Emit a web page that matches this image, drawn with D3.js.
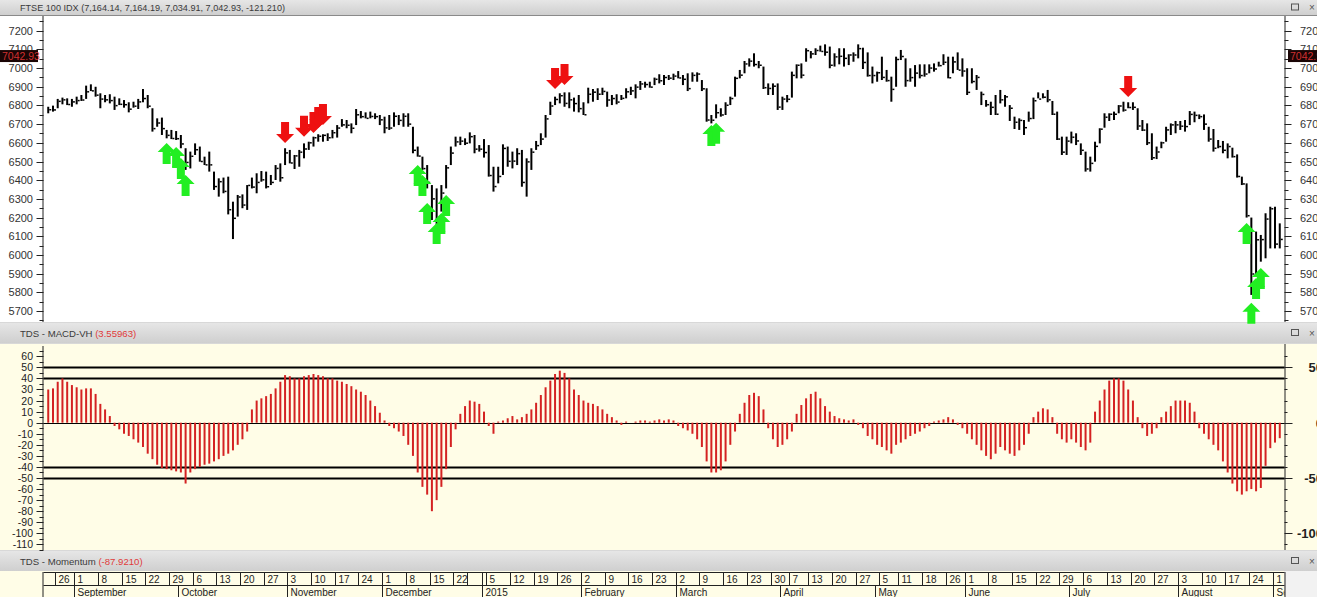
<!DOCTYPE html>
<html><head><meta charset="utf-8">
<script src="https://cdn.jsdelivr.net/npm/d3@7"></script>
<style>
html,body{margin:0;padding:0;background:#ffffff;overflow:hidden}
svg{display:block;font-family:"Liberation Sans",Arial,sans-serif}
</style>
</head><body>
<svg id="chart" width="1317" height="597"></svg>
<script>
// ---------------- DATA ----------------
const startDate = "2014-08-21";
const endDate = "2015-09-02";
const holidays = ["2014-08-25","2014-12-25","2014-12-26","2015-01-01","2015-04-03","2015-04-06","2015-05-04","2015-05-25","2015-08-31"];

const highs = [6793,6799,6835,6842,6838,6835,6847,6856,6906,6913,6900,6865,6856,6860,6847,6838,6829,6817,6820,6835,
6888,6856,6785,6731,6735,6669,6669,6663,6642,6571,6553,6597,6580,6526,6553,6446,6410,6414,6419,6285,
6321,6324,6374,6414,6437,6449,6446,6428,6481,6490,6571,6562,6535,6562,6597,6606,6633,6646,6646,6651,
6669,6695,6727,6722,6704,6781,6770,6763,6767,6758,6749,6740,6749,6763,6749,6758,6758,6686,6580,6526,
6481,6374,6356,6374,6481,6580,6633,6633,6624,6656,6642,6588,6620,6588,6472,6472,6592,6580,6553,6571,
6562,6517,6571,6610,6651,6749,6820,6847,6865,6870,6870,6842,6856,6817,6895,6888,6892,6895,6874,6856,
6860,6856,6892,6900,6913,6931,6927,6927,6949,6967,6963,6963,6970,6984,6963,6972,6977,6977,6936,6892,
6749,6806,6785,6817,6847,6954,6990,7038,7052,7079,7038,7008,6918,6918,6918,6847,6856,6981,7020,7025,
7106,7091,7106,7120,7127,7115,7079,7106,7106,7074,7084,7127,7109,7084,7008,6981,7061,6990,6954,7061,
7097,7052,6999,7016,7020,7020,7020,7025,7034,7074,7061,7061,7084,7052,6999,6999,6963,6874,6829,6820,
6856,6883,6856,6802,6740,6731,6722,6767,6842,6870,6865,6883,6824,6767,6633,6633,6660,6651,6597,6553,
6526,6606,6678,6758,6758,6767,6802,6820,6817,6817,6785,6722,6704,6651,6580,6606,6686,6704,6717,6717,
6722,6770,6767,6752,6752,6686,6674,6615,6610,6597,6574,6538,6419,6383,6200,6125,6107,6223,6258,6258,
6169];
const lows = [6758,6767,6785,6806,6802,6793,6806,6824,6835,6877,6847,6785,6817,6811,6776,6802,6788,6763,6788,6781,
6817,6785,6660,6686,6642,6624,6620,6615,6571,6455,6463,6535,6499,6481,6446,6348,6312,6330,6217,6085,
6205,6250,6241,6356,6330,6392,6356,6374,6401,6392,6481,6490,6460,6472,6517,6562,6580,6606,6606,6610,
6624,6628,6686,6678,6651,6695,6731,6731,6731,6727,6695,6651,6669,6686,6695,6686,6686,6544,6526,6455,
6356,6187,6160,6232,6356,6481,6580,6588,6588,6597,6544,6553,6521,6419,6339,6383,6428,6472,6463,6481,
6365,6312,6455,6562,6588,6628,6749,6802,6811,6793,6785,6767,6763,6749,6811,6820,6829,6856,6793,6802,
6806,6829,6838,6856,6838,6883,6895,6895,6909,6918,6909,6936,6936,6945,6909,6877,6927,6927,6877,6713,
6704,6731,6740,6749,6802,6847,6945,6972,7008,7008,6999,6888,6856,6856,6776,6776,6817,6842,6945,6945,
7034,7052,7070,7088,7066,6999,7008,7020,7008,7016,7034,7052,6995,6954,6918,6927,6936,6927,6820,6900,
7043,6900,6927,6900,6945,6954,6972,6981,7008,7016,6945,6972,6990,6954,6856,6918,6883,6802,6793,6749,
6749,6811,6793,6717,6674,6669,6642,6713,6727,6838,6838,6817,6749,6615,6535,6535,6597,6588,6535,6446,
6446,6499,6597,6681,6717,6722,6758,6767,6785,6776,6669,6663,6588,6508,6513,6571,6606,6642,6651,6669,
6660,6695,6710,6727,6669,6606,6553,6571,6544,6517,6521,6414,6374,6200,5786,5893,5964,5982,6035,6035,
6035];
const closes = [6777,6776,6822,6830,6805,6819,6826,6829,6873,6878,6855,6834,6830,6826,6799,6806,6804,6780,6796,6819,
6837,6796,6676,6706,6676,6640,6623,6622,6594,6495,6528,6563,6500,6482,6482,6366,6392,6340,6242,6196,
6310,6267,6372,6363,6388,6402,6365,6388,6463,6413,6546,6492,6530,6550,6567,6600,6627,6635,6640,6627,
6654,6679,6696,6694,6678,6750,6740,6731,6741,6740,6723,6680,6679,6742,6720,6742,6700,6560,6529,6462,
6388,6300,6182,6331,6466,6545,6605,6609,6598,6633,6566,6566,6548,6425,6366,6420,6570,6501,6502,6542,
6388,6498,6550,6585,6620,6728,6797,6832,6852,6811,6830,6810,6783,6750,6860,6871,6860,6875,6829,6837,
6818,6838,6873,6878,6898,6915,6912,6898,6940,6932,6949,6946,6957,6947,6940,6890,6961,6968,6889,6722,
6721,6761,6749,6801,6837,6945,6962,7022,7037,7019,7015,6895,6891,6903,6791,6834,6833,6961,7015,6962,
7093,7076,7094,7089,7085,7015,7060,7063,7052,7070,7070,7104,7030,6960,6960,6975,6950,6933,6886,7046,
7062,6933,6949,6973,6960,6968,7000,6995,7013,7031,6948,7033,6989,6984,6870,6928,6950,6859,6804,6790,
6753,6830,6846,6785,6710,6720,6681,6730,6825,6834,6844,6830,6753,6620,6550,6609,6630,6610,6560,6460,
6490,6581,6673,6737,6753,6753,6797,6775,6789,6790,6690,6668,6600,6520,6551,6600,6669,6696,6696,6689,
6687,6752,6747,6740,6700,6620,6571,6580,6560,6580,6526,6420,6380,6210,5898,6081,6082,6192,6247,6058,
6083];

const macdHist = [30,31,37,40,37,34,32,30,31,31,26,17,12,6,-3,-6,-10,-12,-15,-18,
-22,-28,-33,-38,-41,-42,-43,-44,-45,-55,-45,-42,-40,-38,-37,-35,-33,-30,-28,-25,
-20,-15,-8,12,20,22,24,26,31,37,43,42,40,40,42,43,44,43,42,40,
40,38,37,35,33,30,28,25,20,15,9,2,-3,-5,-8,-12,-20,-30,-45,-58,
-65,-80,-70,-58,-42,-22,-6,8,15,20,19,17,10,-3,-10,1,2,4,6,3,
5,8,12,18,25,32,38,44,47,45,40,30,25,20,18,17,15,12,8,5,
2,-2,1,0,1,2,2,1,2,3,2,3,2,-3,-5,-7,-10,-15,-22,-35,
-45,-45,-43,-35,-20,-8,8,18,25,27,24,12,-5,-15,-22,-20,-15,-8,8,16,
22,26,28,22,15,10,6,4,3,2,3,-2,-5,-12,-15,-20,-22,-25,-28,-20,
-18,-15,-12,-10,-8,-5,-3,1,2,3,5,3,-2,-5,-10,-15,-20,-25,-30,-33,
-28,-22,-25,-28,-30,-25,-20,-10,5,10,13,12,5,-10,-15,-18,-15,-18,-22,-25,
-18,10,20,30,38,40,40,38,30,20,5,-5,-12,-10,-5,5,10,15,20,20,
20,18,10,-5,-10,-15,-20,-25,-35,-45,-55,-62,-65,-62,-60,-62,-59,-39,-23,-18,
-14];

const buyIndex = [25,27,28,29,78,79,80,82,83,84,140,141,253,254,255,256];
const buyPrice = [6599,6578,6519,6428,6481,6428,6278,6171,6224,6321,6695,6707,6171,5744,5877,5930];
const sellIndex = [50,54,56,57,58,107,109,228];
const sellPrice = [6599,6633,6653,6679,6696,6888,6909,6845];

const priceTicks = [7200,7100,7000,6900,6800,6700,6600,6500,6400,6300,6200,6100,6000,5900,5800,5700];
const macdTicks = [60,50,40,30,20,10,0,-10,-20,-30,-40,-50,-60,-70,-80,-90,-100,-110];
const macdRightTicks = [50,0,-50,-100];
const macdLevels = [50,40,-40,-50];
const monthLabels = ["2015","February","March","April","May","June","July","August","September","October","November","December"];

const titleMain = "FTSE 100 IDX (7,164.14, 7,164.19, 7,034.91, 7,042.93, -121.210)";
const macdTitle = "TDS - MACD-VH ";
const macdValue = "(3.55963)";
const momTitle = "TDS - Momentum ";
const momValue = "(-87.9210)";
const lastPrice = 7042.93;

// ---------------- CALENDAR ----------------
const parse = d3.timeParse("%Y-%m-%d");
const fmt = d3.timeFormat("%Y-%m-%d");
const hol = new Set(holidays);
const days = d3.timeDay.range(parse(startDate), d3.timeDay.offset(parse(endDate), 1))
  .filter(d => d.getDay() !== 0 && d.getDay() !== 6 && !hol.has(fmt(d)));

const bars = days.map((d, i) => ({d, i, h: highs[i], l: lows[i], c: closes[i], m: macdHist[i]}));

// ---------------- LAYOUT ----------------
const W = 1317, H = 597;
const L = 43.5, R = 1284.5;
const svg = d3.select("#chart");
const defs = svg.append("defs");
defs.append("clipPath").attr("id","dateClip").append("rect").attr("x",L).attr("y",560).attr("width",R-L).attr("height",40);

const x = d3.scaleLinear().domain([-1, days.length]).range([L, R]);
const yP = d3.scaleLinear().domain([5700, 7200]).range([311, 30.7]);
const yM = d3.scaleLinear().domain([-110, 60]).range([544.4, 356.3]);

const panelTop = {y0: 16, y1: 322};
const macdPanel = {y0: 344, y1: 550};
const dateTop = 571;

// backgrounds
svg.append("rect").attr("x",0).attr("y",0).attr("width",W).attr("height",H).attr("fill","#d8d8d8");
function header(y, h) {
  const g = svg.append("g");
  const grad = defs.append("linearGradient").attr("id","hg"+y).attr("x1",0).attr("x2",0).attr("y1",0).attr("y2",1);
  grad.append("stop").attr("offset","0").attr("stop-color","#e6e6e6");
  grad.append("stop").attr("offset","1").attr("stop-color","#cfcfcf");
  g.append("rect").attr("x",0).attr("y",y).attr("width",W).attr("height",h).attr("fill","url(#hg"+y+")");
  g.append("rect").attr("x",1291.5).attr("y",y+h/2-3.5).attr("width",7).attr("height",6).attr("fill","none").attr("stroke","#555").attr("stroke-width",1);
  g.append("text").attr("x",1309).attr("y",y+h/2+3.5).attr("font-size",10).attr("fill","#555").text("×");
  return g;
}
header(0, 15);
header(323, 20);
header(551, 20);

svg.append("rect").attr("x",0).attr("y",panelTop.y0).attr("width",W).attr("height",panelTop.y1-panelTop.y0).attr("fill","#ffffff");
svg.append("line").attr("x1",0).attr("x2",W).attr("y1",panelTop.y0-0.5).attr("y2",panelTop.y0-0.5).attr("stroke","#8a8a8a");
svg.append("rect").attr("x",0).attr("y",macdPanel.y0).attr("width",W).attr("height",macdPanel.y1-macdPanel.y0).attr("fill","#fffde7");
svg.append("rect").attr("x",0).attr("y",dateTop).attr("width",R).attr("height",H-dateTop).attr("fill","#fffde7");
svg.append("rect").attr("x",R).attr("y",dateTop).attr("width",W-R).attr("height",H-dateTop).attr("fill","#f2f2f2");

// header texts
svg.append("text").attr("x",20).attr("y",10.5).attr("font-size",9.5).attr("fill","#3a3a3a").attr("textLength",265).attr("lengthAdjust","spacingAndGlyphs").text(titleMain);
const t2 = svg.append("text").attr("x",20).attr("y",336.5).attr("font-size",9.6).attr("fill","#3a3a3a");
t2.append("tspan").text(macdTitle);
t2.append("tspan").attr("fill","#e03a3a").text(macdValue);
const t3 = svg.append("text").attr("x",20).attr("y",564.5).attr("font-size",9.6).attr("fill","#3a3a3a");
t3.append("tspan").text(momTitle);
t3.append("tspan").attr("fill","#e03a3a").text(momValue);

// ---------------- PRICE PANEL ----------------
const gP = svg.append("g");
const minorP = d3.range(5650, 7251, 50);
gP.append("line").attr("x1",L-0.5).attr("x2",L-0.5).attr("y1",panelTop.y0).attr("y2",panelTop.y1).attr("stroke","#222");
gP.append("line").attr("x1",R+0.5).attr("x2",R+0.5).attr("y1",panelTop.y0).attr("y2",panelTop.y1).attr("stroke","#222");
minorP.forEach(v=>{
  const yy = Math.round(yP(v)) + 0.5;
  if (yy < panelTop.y0 || yy > panelTop.y1) return;
  const major = v % 100 === 0;
  gP.append("line").attr("x1",L-(major?7:4)).attr("x2",L).attr("y1",yy).attr("y2",yy).attr("stroke","#222");
  gP.append("line").attr("x1",R).attr("x2",R+(major?7:4)).attr("y1",yy).attr("y2",yy).attr("stroke","#222");
});
gP.selectAll(".pl").data(priceTicks).enter().append("text")
  .attr("x",33).attr("y",d=>yP(d)+4).attr("text-anchor","end").attr("font-size",11).attr("fill","#333").text(d=>d);
gP.selectAll(".pr").data(priceTicks).enter().append("text")
  .attr("x",1300).attr("y",d=>yP(d)+4).attr("font-size",11).attr("fill","#333").text(d=>d);

// OHLC bars
const gB = gP.append("g");
gB.selectAll("line.hl").data(bars).enter().append("line")
  .attr("x1",d=>x(d.i)).attr("x2",d=>x(d.i))
  .attr("y1",d=>yP(d.h)).attr("y2",d=>yP(d.l))
  .attr("stroke","#000").attr("stroke-width",2);
gB.selectAll("line.cl").data(bars).enter().append("line")
  .attr("x1",d=>x(d.i)+1).attr("x2",d=>x(d.i)+3)
  .attr("y1",d=>yP(d.c)).attr("y2",d=>yP(d.c))
  .attr("stroke","#000").attr("stroke-width",1.5);

// signal arrows (block arrows, tip at the given point)
const AH = 9, AW = 9, AS = 4, AT = 21;
function upArrow(px, py){
  return `M${px},${py} L${px+AW},${py+AH} L${px+AS},${py+AH} L${px+AS},${py+AT} L${px-AS},${py+AT} L${px-AS},${py+AH} L${px-AW},${py+AH} Z`;
}
function downArrow(px, py){
  return `M${px},${py} L${px+AW},${py-AH} L${px+AS},${py-AH} L${px+AS},${py-AT} L${px-AS},${py-AT} L${px-AS},${py-AH} L${px-AW},${py-AH} Z`;
}
gP.selectAll(".buy").data(buyIndex).enter().append("path")
  .attr("d",(d,k)=>upArrow(x(d), yP(buyPrice[k]))).attr("fill","#22ee22");
gP.selectAll(".sell").data(sellIndex).enter().append("path")
  .attr("d",(d,k)=>downArrow(x(d), yP(sellPrice[k]))).attr("fill","#ee1111");

// last price boxes
const yl = yP(lastPrice);
[[0,38],[1288,W-1288]].forEach(([bx,bw])=>{
  svg.append("rect").attr("x",bx).attr("y",yl-10).attr("width",bw).attr("height",12).attr("fill","#1a0505");
  svg.append("text").attr("x",bx+2).attr("y",yl-0.5).attr("font-size",10.5).attr("fill","#d03030").text(lastPrice.toFixed(2));
});

// ---------------- MACD PANEL ----------------
const gM = svg.append("g");
gM.append("line").attr("x1",L-0.5).attr("x2",L-0.5).attr("y1",macdPanel.y0+2).attr("y2",macdPanel.y1).attr("stroke","#222");
gM.append("line").attr("x1",R+0.5).attr("x2",R+0.5).attr("y1",macdPanel.y0).attr("y2",macdPanel.y1).attr("stroke","#222");
d3.range(-115, 66, 5).forEach(v=>{
  const yy = Math.round(yM(v))+0.5;
  const major = v % 10 === 0;
  gM.append("line").attr("x1",L-(major?7:4)).attr("x2",L).attr("y1",yy).attr("y2",yy).attr("stroke","#222");
});
d3.range(-110, 61, 10).forEach(v=>{
  const yy = Math.round(yM(v))+0.5;
  const major = v % 50 === 0;
  gM.append("line").attr("x1",R).attr("x2",R+(major?8:3)).attr("y1",yy).attr("y2",yy).attr("stroke","#222");
});
gM.selectAll(".ml").data(macdTicks).enter().append("text")
  .attr("x",33).attr("y",d=>yM(d)+4).attr("text-anchor","end").attr("font-size",10.5).attr("fill","#222").text(d=>d);
gM.selectAll(".mr").data(macdRightTicks).enter().append("text")
  .attr("x",1323).attr("y",d=>yM(d)+5).attr("text-anchor","end").attr("font-size",13).attr("font-weight","bold").attr("fill","#222").text(d=>d);
gM.selectAll(".lv").data(macdLevels).enter().append("line")
  .attr("x1",L).attr("x2",R).attr("y1",d=>Math.round(yM(d))+0.5).attr("y2",d=>Math.round(yM(d))+0.5)
  .attr("stroke","#000").attr("stroke-width",2);
gM.append("line").attr("x1",L).attr("x2",R).attr("y1",Math.round(yM(0))+0.5).attr("y2",Math.round(yM(0))+0.5).attr("stroke","#000").attr("stroke-width",1);
gM.selectAll(".hb").data(bars).enter().append("line")
  .attr("x1",d=>x(d.i)).attr("x2",d=>x(d.i))
  .attr("y1",yM(0)).attr("y2",d=>yM(d.m))
  .attr("stroke","#d42222").attr("stroke-width",2);

// ---------------- DATE AXIS ----------------
const gD = svg.append("g");
const gDc = gD.append("g").attr("clip-path","url(#dateClip)");
const row1 = dateTop + 1, row2 = dateTop + 14;
gD.append("line").attr("x1",L).attr("x2",R).attr("y1",row1+0.5).attr("y2",row1+0.5).attr("stroke","#222");
gD.append("line").attr("x1",L).attr("x2",R).attr("y1",row2+0.5).attr("y2",row2+0.5).attr("stroke","#222");
gD.append("line").attr("x1",L-0.5).attr("x2",L-0.5).attr("y1",row1).attr("y2",H).attr("stroke","#222");
gD.append("line").attr("x1",R+0.5).attr("x2",R+0.5).attr("y1",row1).attr("y2",H).attr("stroke","#222");

// find week starts and month starts
const marks = [];
bars.forEach((b, k) => {
  if (k === 0) return;
  const prev = bars[k-1].d;
  marks.push({b, newWeek: +d3.timeMonday.floor(b.d) !== +d3.timeMonday.floor(prev),
              newMonth: b.d.getMonth() !== prev.getMonth(),
              newYear: b.d.getFullYear() !== prev.getFullYear()});
});
const yearWeeks = new Set(marks.filter(m=>m.newYear).map(m=>+d3.timeMonday.floor(m.b.d)));
marks.forEach(m => {
  const xx = Math.round(x(m.b.i) - 2.4) + 0.5;
  if (m.newWeek || m.newYear) {
    gDc.append("line").attr("x1",xx).attr("x2",xx).attr("y1",row1).attr("y2",row2).attr("stroke","#222");
    if (m.newWeek && !yearWeeks.has(+d3.timeMonday.floor(m.b.d)))
      gDc.append("text").attr("x",xx+3).attr("y",row1+10.5).attr("font-size",10).attr("fill","#222").text(m.b.d.getDate());
  }
  if (m.newMonth) {
    gDc.append("line").attr("x1",xx).attr("x2",xx).attr("y1",row2).attr("y2",H).attr("stroke","#222");
    gDc.append("text").attr("x",xx+3).attr("y",row2+10.5).attr("font-size",10).attr("fill","#222").text(monthLabels[m.b.d.getMonth()]);
  }
});
</script>
</body></html>
